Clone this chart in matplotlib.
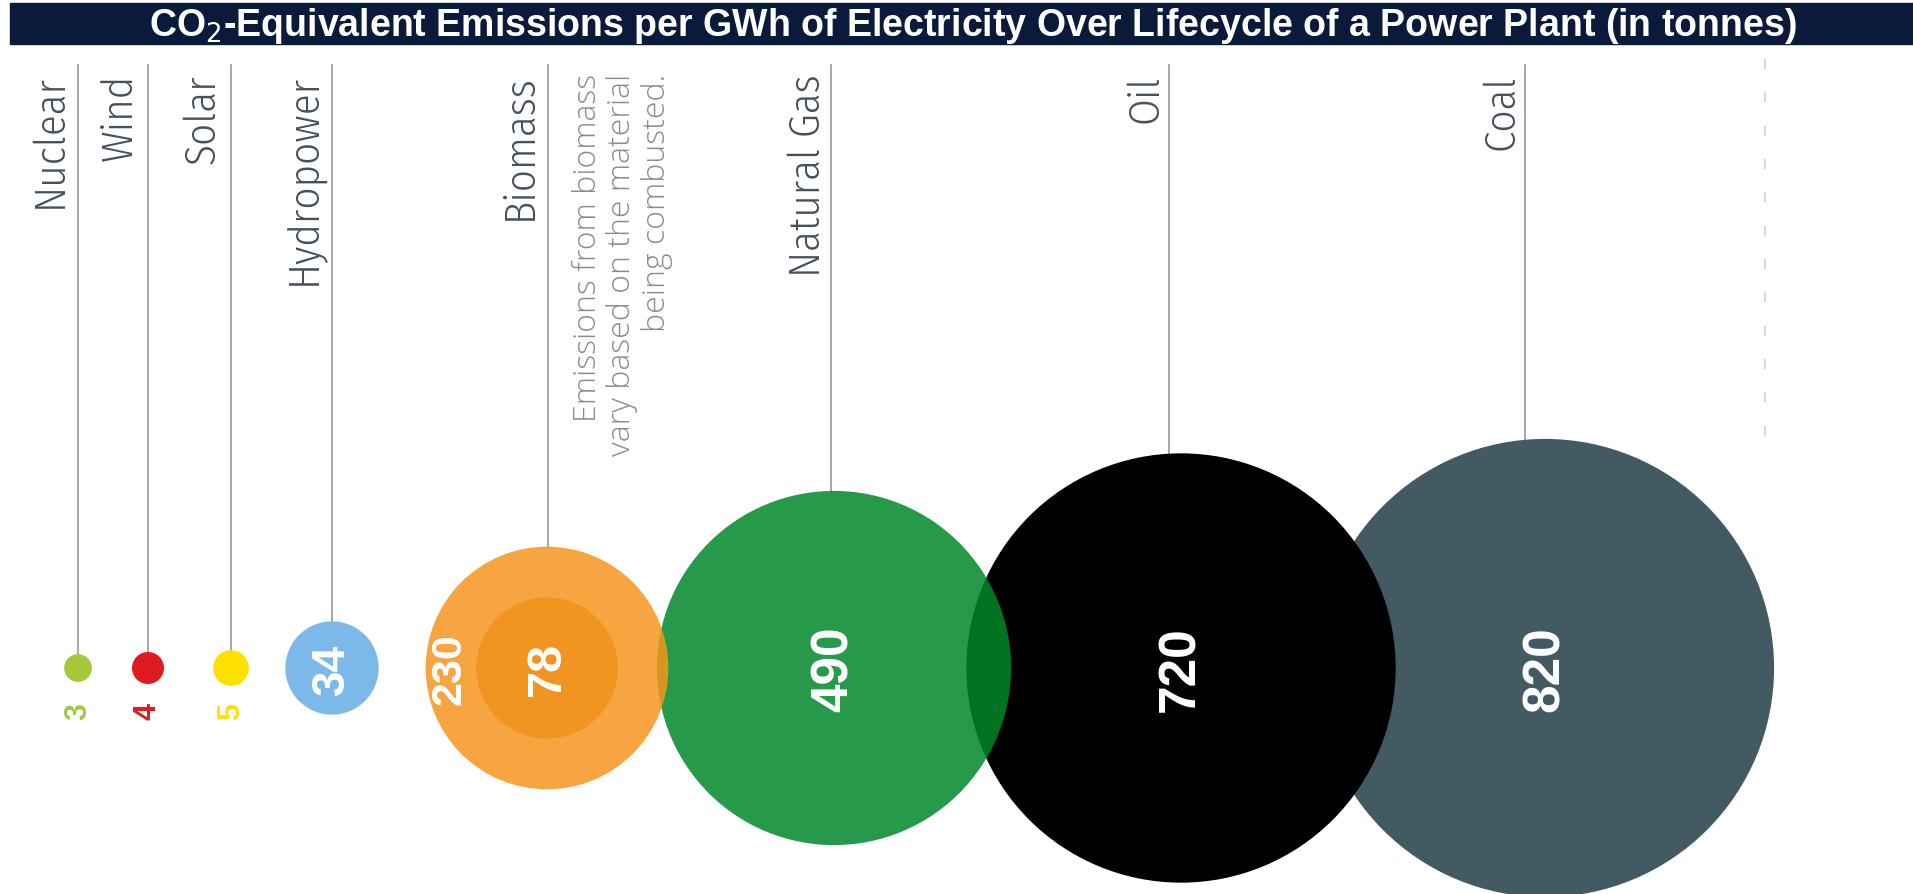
import numpy as np
import matplotlib
matplotlib.use('Agg')
import matplotlib.pyplot as plt
from matplotlib.patches import Circle, Rectangle

# data: lifecycle CO2-eq emissions (tonnes per GWh)
sources = ['Nuclear', 'Wind', 'Solar', 'Hydropower', 'Biomass', 'Natural Gas', 'Oil', 'Coal']
emissions = [3, 4, 5, 34, 230, 490, 720, 820]
biomass_low = 78
biomass_note = 'Emissions from biomass\nvary based on the material\nbeing combusted.'
colors = ['#a6c93c', '#e01a22', '#ffe100', '#7db9e8', '#f6961e', '#00882a', '#000000', '#445a63']
alphas = [1, 1, 1, 1, 0.85, 0.85, 1, 1]
title = 'CO$_2$-Equivalent Emissions per GWh of Electricity Over Lifecycle of a Power Plant (in tonnes)'

# layout (pixel space)
W, H = 1913, 895
line_x = [78, 148, 231, 332, 548, 831, 1169, 1525]
center_x = [78, 148, 231, 332, 547, 834, 1181, 1545]
cy = 669
top_y = 66
k = 8.0  # radius = k * sqrt(value)

fig = plt.figure(figsize=(W / 100, H / 100), dpi=100)
ax = fig.add_axes([0, 0, 1, 1])
ax.set_xlim(0, W)
ax.set_ylim(H, 0)
ax.axis('off')

# title bar
ax.add_patch(Rectangle((10, 4), W - 10, 41, color='#0a1a3a', zorder=5))
ax.text(973, 26, title, color='white', fontsize=27, fontweight='bold',
        family='Liberation Sans', ha='center', va='center', zorder=6)

radii = [k * np.sqrt(v) for v in emissions]

# draw big ones first so the smaller sit on top
order = [7, 6, 5, 4, 3, 2, 1, 0]
for z, i in enumerate(order):
    ax.add_patch(Circle((center_x[i], cy), radii[i], facecolor=colors[i], alpha=alphas[i],
                        edgecolor='none', zorder=2 + z))
ax.add_patch(Circle((center_x[4], cy), k * np.sqrt(biomass_low), facecolor='#f29420',
                    edgecolor='none', zorder=12))

label_col = '#44505c'
for i, name in enumerate(sources):
    dx = line_x[i] - center_x[i]
    y_end = cy - np.sqrt(max(radii[i] ** 2 - dx ** 2, 0))
    ax.plot([line_x[i], line_x[i]], [top_y, y_end], color='#a0a0a0', lw=1.3, zorder=1)
    shift = 8 if i < 5 else 3
    ax.text(line_x[i] - shift, top_y + 8, name, rotation=90, ha='right', va='top',
            fontsize=31, family='Fira Sans Condensed', fontweight=300, color=label_col, zorder=20)

# biomass note
ax.text(line_x[4] + 24, top_y + 8, biomass_note, rotation=90, ha='left', va='top',
        multialignment='right', fontsize=23, family='Open Sans', fontweight=300,
        color='#8c8c8c', linespacing=1.1, zorder=20)

# value labels
for i, v in enumerate(emissions):
    if v < 10:
        ax.text(center_x[i], cy + 42, str(v), rotation=90, ha='center', va='center',
                fontsize=22, fontweight='bold', family='Liberation Sans', color=colors[i], zorder=20)
    elif i == 4:
        ax.text(center_x[i] - 97, cy, str(v), rotation=90, ha='center', va='center',
                fontsize=31, fontweight='bold', family='Liberation Sans', color='white', zorder=20)
        ax.text(center_x[i], cy, str(biomass_low), rotation=90, ha='center', va='center',
                fontsize=35, fontweight='bold', family='Liberation Sans', color='white', zorder=20)
    else:
        fs = 33 if v < 100 else 37
        ax.text(center_x[i], cy, str(v), rotation=90, ha='center', va='center',
                fontsize=fs, fontweight='bold', family='Liberation Sans', color='white', zorder=20)

# faint dashed guide on the right
ax.plot([1765, 1765], [60, 452], color='#d0d0d0', lw=1.2, ls=(0, (6, 14)), zorder=1)

fig.savefig('out.png', dpi=100, facecolor='white')
